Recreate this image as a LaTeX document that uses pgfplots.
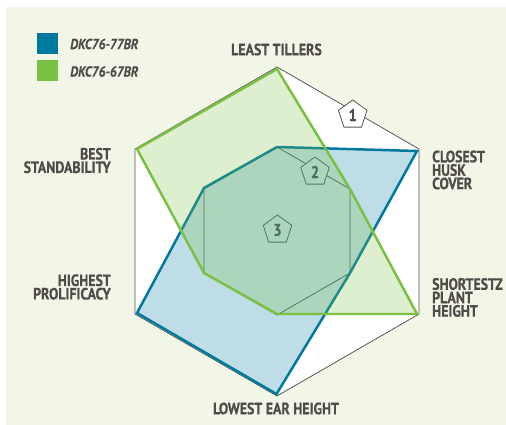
\documentclass[border=0pt]{standalone}
\usepackage{fontspec}
\usepackage{pgfplots}
\pgfplotsset{compat=1.18}
\usetikzlibrary{shapes.geometric}
\setmainfont{PT Sans}
\newfontfamily\labf[FakeStretch=0.85,FakeBold=0.5]{PT Sans Bold}
\newfontfamily\legf[FakeStretch=0.87,FakeBold=0.3]{PT Sans Bold Italic}
\definecolor{bgc}{HTML}{F2F6E7}
\definecolor{blueS}{HTML}{00799F}
\definecolor{greenS}{HTML}{7AC143}
\definecolor{txt}{HTML}{504A48}
\definecolor{gridc}{HTML}{5A5452}
\tikzset{
  lbl/.style={text=txt,inner sep=0pt,font=\labf\fontsize{16.4}{13.5}\selectfont},
  leg/.style={text=txt,inner sep=0pt,anchor=west,font=\legf\fontsize{14.6}{13}\selectfont},
  pent/.style={regular polygon,regular polygon sides=5,draw=gridc,line width=0.8pt,fill=white,minimum size=30bp,inner sep=0pt,text=txt,font=\labf\fontsize{17}{17}\selectfont}
}
\begin{document}
\begin{tikzpicture}
\begin{axis}[
  width=506bp,height=425bp,scale only axis,
  xmin=0,xmax=506,ymin=0,ymax=425,y dir=reverse,
  hide axis,clip=false,
]
% page and panel
\addplot[fill=white,draw=none,forget plot] coordinates {(0,0)(506,0)(506,425)(0,425)} -- cycle;
\addplot[fill=bgc,draw=none,forget plot] coordinates {(6,7)(506,7)(506,425)(6,425)} -- cycle;
% outer and inner hexagons
\addplot[fill=white,draw=gridc,line width=0.8pt,forget plot] coordinates {(277,67)(419,149)(419,314)(277,396)(135,314)(135,149)} -- cycle;
\addplot[draw=gridc,line width=0.8pt,forget plot] coordinates {(277,147)(350,189)(350,273)(277,315)(204,273)(204,189)} -- cycle;
% scale markers
\node[pent] at (axis cs:352.7,115) {1};
\node[pent] at (axis cs:315,172) {2};
\node[pent] at (axis cs:277.5,230) {3};
% series
\addplot[draw=blueS,fill=blueS,fill opacity=0.25,line width=2.5pt,line join=miter,forget plot] coordinates {(277,147)(417,151)(350,273)(276.5,394)(137,313)(204,188)} -- cycle;
\addplot[draw=greenS,fill=greenS,fill opacity=0.25,line width=2.5pt,line join=miter,forget plot] coordinates {(277,69)(350,189)(417,314)(277,314)(204,273)(137,149)} -- cycle;
% legend
\addplot[fill=blueS,draw=none,forget plot] coordinates {(37,33)(58,33)(58,54)(37,54)} -- cycle;
\addplot[fill=greenS,draw=none,forget plot] coordinates {(37,60)(58,60)(58,81)(37,81)} -- cycle;
\node[leg] at (axis cs:70,44) {DKC76-77BR};
\node[leg] at (axis cs:70,71.5) {DKC76-67BR};
% axis labels
\node[lbl,anchor=center] at (axis cs:276.5,49.5) {LEAST TILLERS};
\node[lbl,anchor=center] at (axis cs:276,408.5) {LOWEST EAR HEIGHT};
\node[lbl,anchor=east,align=right] at (axis cs:111,160.5) {BEST\\STANDABILITY};
\node[lbl,anchor=east,align=right] at (axis cs:111,287) {HIGHEST\\PROLIFICACY};
\node[lbl,anchor=west,align=left] at (axis cs:432,170) {CLOSEST\\HUSK\\COVER};
\node[lbl,anchor=west,align=left] at (axis cs:432,297.5) {SHORTESTZ\\PLANT\\HEIGHT};
\end{axis}
\end{tikzpicture}
\end{document}
